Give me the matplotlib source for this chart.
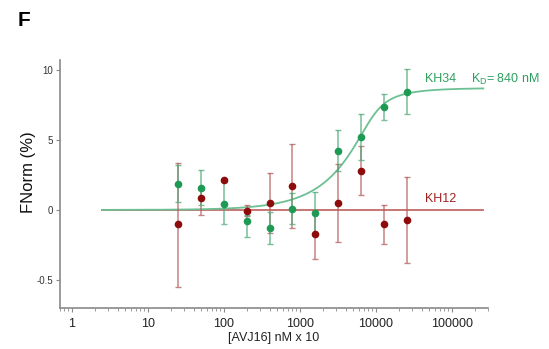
import numpy as np
import matplotlib
matplotlib.use("Agg")
import matplotlib.pyplot as plt

plt.rcParams['font.family'] = ['Liberation Sans', 'DejaVu Sans']

conc = [25, 50, 100, 200, 400, 800, 1600, 3200, 6400, 12800, 25600]

kh34 = [1.83, 1.60, 0.43, -0.79, -1.31, 0.07, -0.19, 4.24, 5.19, 7.33, 8.45]
kh34_lo = [0.55, 0.36, -1.02, -1.90, -2.45, -1.00, -1.70, 2.81, 3.57, 6.43, 6.86]
kh34_hi = [3.19, 2.86, 2.02, -0.36, -0.17, 1.24, 1.30, 5.71, 6.86, 8.29, 10.05]

kh12 = [-1.02, 0.83, 2.14, -0.07, 0.52, 1.71, -1.74, 0.52, 2.81, -1.00, -0.71]
kh12_lo = [-5.48, -0.38, 2.04, -0.40, -1.67, -1.28, -3.50, -2.26, 1.07, -2.43, -3.76]
kh12_hi = [3.38, 1.43, 2.24, 0.36, 2.67, 4.69, 0.00, 3.26, 4.57, 0.36, 2.38]

# fit parameters for KH34 binding curve (quadratic binding model)
fit_top = 8.7
fit_kd = 840.0
fit_target = 8300.0
fit_range = (2.5, 2.6e5)

yticks = [10, 5, 0, -5]
ytick_labels = ["10", "5", "0", "-0.5"]
xticks = [1, 10, 100, 1000, 10000, 100000]
xtick_labels = ["1", "10", "100", "1000", "10000", "100000"]

green = "#1e9a55"
green_line = "#6cc093"
red = "#8e0b0b"
red_line = "#c46a6a"
axis_gray = "#8a8a8a"

fig = plt.figure(figsize=(5.49, 3.49), dpi=100)
ax = fig.add_axes([60/549, 1-308/349, (488-60)/549, (308-60)/349])

ax.set_xscale('log')
ax.set_xlim(0.7, 3.0e5)
ax.set_ylim(-7.0, 10.7)

# fit curves
xf = np.logspace(np.log10(fit_range[0]), np.log10(fit_range[1]), 400)
s = fit_target + xf + fit_kd
frac = (s - np.sqrt(s**2 - 4*fit_target*xf)) / (2*fit_target)
ax.plot(fit_range, [0, 0], color=red_line, lw=1.3, zorder=2)
ax.plot(xf, fit_top*frac, color=green_line, lw=1.3, zorder=2)

c = np.array(conc)
for y, lo, hi, col in [(kh12, kh12_lo, kh12_hi, "#b35a5a"), (kh34, kh34_lo, kh34_hi, "#4aa877")]:
    y = np.array(y); lo = np.array(lo); hi = np.array(hi)
    ax.errorbar(c, y, yerr=[y-lo, hi-y], fmt='none', ecolor=col, elinewidth=1.1,
                capsize=2.5, capthick=1.0, alpha=0.75, zorder=3)

ax.plot(c, kh12, 'o', color=red, ms=5.5, mec='none', zorder=4)
ax.plot(c, kh34, 'o', color=green, ms=5.5, mec='none', zorder=5)

ax.set_xticks(xticks)
ax.set_xticklabels(xtick_labels)
ax.set_yticks(yticks)
ax.set_yticklabels(ytick_labels)

for sp in ['top', 'right']:
    ax.spines[sp].set_visible(False)
for sp in ['left', 'bottom']:
    ax.spines[sp].set_color(axis_gray)
    ax.spines[sp].set_linewidth(1.2)

ax.tick_params(axis='x', which='major', length=3, width=0.8, color=axis_gray,
               labelsize=9, labelcolor="#222222", pad=4)
ax.tick_params(axis='x', which='minor', length=2, width=0.6, color=axis_gray)
ax.tick_params(axis='y', which='major', length=3, width=0.8, color=axis_gray,
               labelsize=7, labelcolor="#333333", pad=2)

ax.set_ylabel("FNorm (%)", fontsize=12, color="#111111")
ax.yaxis.set_label_coords(-0.056, 0.548)
ax.set_xlabel("[AVJ16] nM x 10", fontsize=9, color="#222222", labelpad=2)

ax.text(7.1e4, 9.34, "KH34", color="#2e9e60", fontsize=9, ha='center', va='center')
ax.text(5.1e5, 9.34, r"K$_\mathregular{D}$= 840 nM", color="#2e9e60", fontsize=9,
        ha='center', va='center')
ax.text(7.1e4, 0.76, "KH12", color="#a02020", fontsize=9, ha='center', va='center')

for art in ax.get_children():
    try:
        art.set_clip_on(False)
    except Exception:
        pass

fig.text(18/549, 1-20/349, "F", fontsize=15, fontweight='bold', ha='left', va='center')

fig.savefig("out.png", dpi=100)
